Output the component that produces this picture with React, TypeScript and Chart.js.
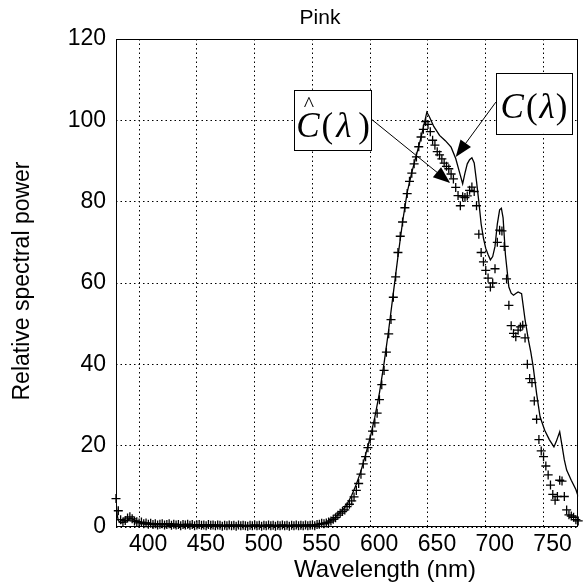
import React, { useEffect, useRef } from "react";
import { Chart, registerables } from "chart.js";

Chart.register(...registerables);

const WIDTH = 584;
const HEIGHT = 582;

const TITLE = "Pink";
const X_TITLE = "Wavelength (nm)";
const Y_TITLE = "Relative spectral power";

const X_MIN = 380;
const X_MAX = 780;
const Y_MIN = 0;
const Y_MAX = 120;
const X_TICKS = [400, 450, 500, 550, 600, 650, 700, 750];
const Y_TICKS = [0, 20, 40, 60, 80, 100, 120];

// Measured spectrum C(λ)
const MEASURED_NM = [
  380, 381, 382, 384, 387, 390, 393, 396, 400, 410,
  420, 430, 440, 450, 460, 470, 480, 490, 500, 510,
  520, 530, 540, 550, 556, 560, 564, 568, 572, 576,
  580, 584, 588, 592, 596, 600, 604, 608, 612, 616,
  620, 624, 628, 632, 636, 640, 644, 647, 649, 651,
  655, 660, 665, 670, 674, 677, 680, 682, 684, 686,
  688, 690, 692, 694, 696, 698, 700, 702, 704, 706,
  708, 710, 712, 713.5, 715, 717, 720, 722, 724, 726,
  728, 731, 734, 737, 739, 741, 744, 747, 751, 755,
  759, 761, 764, 766, 768, 770, 774, 778, 780,
];
const MEASURED_POWER = [
  6.5, 3.0, 1.6, 1.0, 1.2, 1.8, 2.1, 1.7, 1.2, 0.9,
  0.8, 0.7, 0.6, 0.5, 0.5, 0.4, 0.4, 0.4, 0.4, 0.4,
  0.4, 0.4, 0.4, 0.5, 0.6, 0.9, 1.3, 2.0, 3.0, 4.1,
  5.6, 7.8, 10.5, 13.8, 17.8, 22.0, 27.0, 33.0, 40.3, 48.5,
  57.5, 66.5, 75.0, 82.3, 87.2, 91.5, 95.8, 99.5, 102.0, 101.0,
  98.5, 96.3, 95.0, 93.4, 90.6, 87.5, 84.4, 87.0, 89.3, 90.3,
  90.8, 89.5, 85.0, 80.0, 74.5, 71.0, 68.5, 67.0, 65.7, 66.5,
  69.0, 74.5, 78.0, 78.4, 76.0, 67.0, 59.0, 57.5, 57.0, 57.4,
  57.8, 57.4, 51.0, 45.9, 43.0, 39.5, 32.8, 27.1, 23.8, 21.5,
  19.7, 21.0, 23.4, 20.0, 16.5, 14.0, 11.5, 9.2, 7.5,
];

// Estimated spectrum Ĉ(λ), one sample every 2 nm from 380 nm
const ESTIMATE_START_NM = 380;
const ESTIMATE_STEP_NM = 2;
const ESTIMATE_POWER = [
  7.0, 4.0, 1.8, 1.2, 1.6, 2.2, 2.5, 2.0, 1.5, 1.3,
  1.0, 1.2, 0.8, 1.0, 0.7, 0.9, 0.6, 0.8, 0.5, 0.7,
  0.8, 0.5, 0.6, 0.8, 0.4, 0.7, 0.5, 0.6, 0.3, 0.6,
  0.5, 0.7, 0.4, 0.6, 0.3, 0.5, 0.6, 0.4, 0.5, 0.3,
  0.6, 0.4, 0.5, 0.3, 0.5, 0.4, 0.2, 0.4, 0.3, 0.5,
  0.3, 0.4, 0.2, 0.5, 0.3, 0.4, 0.3, 0.2, 0.4, 0.3,
  0.5, 0.3, 0.4, 0.2, 0.4, 0.3, 0.5, 0.3, 0.4, 0.2,
  0.4, 0.3, 0.5, 0.3, 0.4, 0.2, 0.4, 0.3, 0.5, 0.3,
  0.4, 0.3, 0.5, 0.3, 0.4, 0.5, 0.3, 0.6, 0.7, 0.9,
  0.8, 1.0, 1.2, 1.5, 1.9, 2.3, 2.9, 3.4, 3.8, 4.2,
  5.0, 5.6, 6.4, 7.4, 9.0, 10.7, 13.0, 15.5, 17.3, 19.5,
  21.6, 23.6, 25.6, 28.0, 31.3, 35.0, 38.5, 43.0, 47.5, 51.0,
  56.5, 61.5, 67.5, 71.5, 75.0, 78.5, 82.0, 85.0, 87.0, 89.3,
  91.0, 93.5, 95.9, 97.8, 99.7, 99.0, 97.2, 95.1, 93.9, 92.3,
  91.5, 90.5, 89.5, 88.7, 88.1, 86.8, 85.6, 83.5, 81.5, 79.0,
  81.2, 81.0, 81.4, 82.8, 83.6, 82.5, 79.0, 72.0, 67.5, 65.2,
  63.1, 61.2, 59.0, 60.0, 63.5, 70.0, 73.0, 72.8, 69.0, 61.0,
  54.5, 49.5, 47.6, 46.8, 48.4, 49.2, 49.6, 46.5, 40.0, 36.5,
  35.5, 31.0, 26.5, 21.5, 18.7, 17.3, 15.0, 12.8, 10.3, 8.0,
  6.6, 7.5, 11.5, 11.3, 7.5, 4.2, 3.0, 2.7, 2.4, 1.8,
  1.5,
];

// Callout boxes [left, bottom, right, top] and arrows, in data units (nm, power)
const CALLOUTS = [
  { hat: true, box: [534.4, 92.8, 601.4, 107.5], from: [601.4, 100.2], to: [669.2, 84.6], baseline: 47 },
  { hat: false, box: [708.8, 96.7, 774.6, 111.6], from: [708.8, 104.5], to: [674.0, 91.0], baseline: 45 },
];

const SANS = '"Liberation Sans", Arial, sans-serif';
const SERIF = '"Liberation Serif", "Times New Roman", serif';

function drawArrow(ctx: CanvasRenderingContext2D, x0: number, y0: number, x1: number, y1: number) {
  const len = 17;
  const half = 6.5;
  const a = Math.atan2(y1 - y0, x1 - x0);
  const c = Math.cos(a);
  const s = Math.sin(a);
  ctx.beginPath();
  ctx.moveTo(x0, y0);
  ctx.lineTo(x1 - len * 0.8 * c, y1 - len * 0.8 * s);
  ctx.stroke();
  ctx.beginPath();
  ctx.moveTo(x1, y1);
  ctx.lineTo(x1 - len * c + half * s, y1 - len * s - half * c);
  ctx.lineTo(x1 - len * c - half * s, y1 - len * s + half * c);
  ctx.closePath();
  ctx.fill();
}

function drawSymbol(ctx: CanvasRenderingContext2D, cx: number, baseline: number, hat: boolean) {
  const size = 35;
  const italic = `italic ${size}px ${SERIF}`;
  const upright = `${size}px ${SERIF}`;
  const parts = [
    { t: "C", f: italic, gap: 0 },
    { t: "(", f: upright, gap: 2 },
    { t: "λ", f: italic, gap: hat ? 3 : 2 },
    { t: ")", f: upright, gap: hat ? 7 : 1 },
  ];
  let total = 0;
  for (const p of parts) {
    ctx.font = p.f;
    total += ctx.measureText(p.t).width + p.gap;
  }
  let x = cx - total / 2;
  ctx.textAlign = "left";
  ctx.textBaseline = "alphabetic";
  let cLeft = x;
  let cWidth = 0;
  for (const p of parts) {
    x += p.gap;
    ctx.font = p.f;
    const w = ctx.measureText(p.t).width;
    if (p.t === "C") {
      cLeft = x;
      cWidth = w;
    }
    ctx.fillText(p.t, x, baseline);
    x += w;
  }
  if (hat) {
    ctx.font = `22px ${SERIF}`;
    ctx.textAlign = "center";
    ctx.fillText("^", cLeft + cWidth / 2 + 1, baseline - 26);
  }
}

const decorations = {
  id: "decorations",
  afterDatasetsDraw(chart: any) {
    const { ctx, chartArea } = chart;
    const xs = chart.scales.x;
    const ys = chart.scales.y;
    ctx.save();
    ctx.setLineDash([]);
    ctx.strokeStyle = "#000";
    ctx.fillStyle = "#000";
    ctx.lineWidth = 1;

    // plot frame
    const l = Math.round(chartArea.left);
    const t = Math.round(chartArea.top);
    const r = Math.round(chartArea.right);
    const b = Math.round(chartArea.bottom);
    ctx.strokeRect(l + 0.5, t + 0.5, r - l - 1, b - t - 1);

    // callouts
    for (const c of CALLOUTS) {
      const bl = xs.getPixelForValue(c.box[0]);
      const bb = ys.getPixelForValue(c.box[1]);
      const br = xs.getPixelForValue(c.box[2]);
      const bt = ys.getPixelForValue(c.box[3]);
      ctx.lineWidth = 1;
      drawArrow(
        ctx,
        xs.getPixelForValue(c.from[0]),
        ys.getPixelForValue(c.from[1]),
        xs.getPixelForValue(c.to[0]),
        ys.getPixelForValue(c.to[1])
      );
      ctx.fillStyle = "#fff";
      ctx.fillRect(bl, bt, br - bl, bb - bt);
      ctx.fillStyle = "#000";
      ctx.strokeRect(Math.round(bl) + 0.5, Math.round(bt) + 0.5, Math.round(br - bl), Math.round(bb - bt));
      drawSymbol(ctx, (bl + br) / 2, bt + c.baseline, c.hat);
    }
    ctx.restore();
  },
  afterDraw(chart: any) {
    const { ctx } = chart;
    ctx.save();
    ctx.fillStyle = "#000";
    ctx.textBaseline = "alphabetic";
    ctx.textAlign = "center";

    ctx.font = `21px ${SANS}`;
    ctx.fillText(TITLE, 320, 24);

    ctx.font = `24px ${SANS}`;
    ctx.fillText(X_TITLE, 385, 577);

    ctx.font = `23px ${SANS}`;
    ctx.translate(29, 281);
    ctx.rotate(-Math.PI / 2);
    ctx.fillText(Y_TITLE, 0, 0);
    ctx.restore();
  },
};

export default function App() {
  const canvasRef = useRef<HTMLCanvasElement | null>(null);

  useEffect(() => {
    const canvas = canvasRef.current;
    if (!canvas) return;

    const measured = MEASURED_NM.map((nm, i) => ({ x: nm, y: MEASURED_POWER[i] }));
    const estimate = ESTIMATE_POWER.map((p, i) => ({
      x: ESTIMATE_START_NM + i * ESTIMATE_STEP_NM,
      y: p,
    }));

    const tickFont = { family: SANS, size: 23 };

    const chart = new Chart(canvas, {
      type: "scatter",
      data: {
        datasets: [
          {
            label: "C(λ)",
            data: measured,
            showLine: true,
            borderColor: "#000",
            borderWidth: 1.3,
            pointRadius: 0,
            tension: 0,
          },
          {
            label: "Ĉ(λ)",
            data: estimate,
            showLine: false,
            pointStyle: "cross",
            pointRadius: 4.5,
            pointBorderWidth: 1.3,
            pointBorderColor: "#000",
            borderColor: "#000",
            clip: false,
          },
        ],
      },
      options: {
        responsive: false,
        devicePixelRatio: 1,
        animation: false,
        events: [],
        layout: { padding: { top: 39, right: 2, left: 0, bottom: 0 } },
        plugins: {
          legend: { display: false },
          tooltip: { enabled: false },
          title: { display: false },
        },
        scales: {
          x: {
            type: "linear",
            min: X_MIN,
            max: X_MAX,
            afterBuildTicks: (scale: any) => {
              scale.ticks = X_TICKS.map((v) => ({ value: v }));
            },
            afterFit: (scale: any) => {
              scale.height = 55;
            },
            ticks: {
              font: tickFont,
              color: "#000",
              padding: 4,
              labelOffset: 9,
              maxRotation: 0,
              autoSkip: false,
            },
            grid: { color: "#000", lineWidth: 1, drawTicks: false },
            border: { display: false, dash: [1.5, 3] },
          },
          y: {
            type: "linear",
            min: Y_MIN,
            max: Y_MAX,
            afterBuildTicks: (scale: any) => {
              scale.ticks = Y_TICKS.map((v) => ({ value: v }));
            },
            afterFit: (scale: any) => {
              scale.width = 116;
            },
            ticks: {
              font: tickFont,
              color: "#000",
              padding: 10,
              autoSkip: false,
            },
            grid: { color: "#000", lineWidth: 1, drawTicks: false },
            border: { display: false, dash: [1.5, 3] },
          },
        },
      },
      plugins: [decorations],
    } as any);

    return () => chart.destroy();
  }, []);

  return (
    <div style={{ position: "fixed", left: 0, top: 0, width: WIDTH, height: HEIGHT, background: "#fff" }}>
      <canvas ref={canvasRef} width={WIDTH} height={HEIGHT} style={{ display: "block" }} />
    </div>
  );
}
